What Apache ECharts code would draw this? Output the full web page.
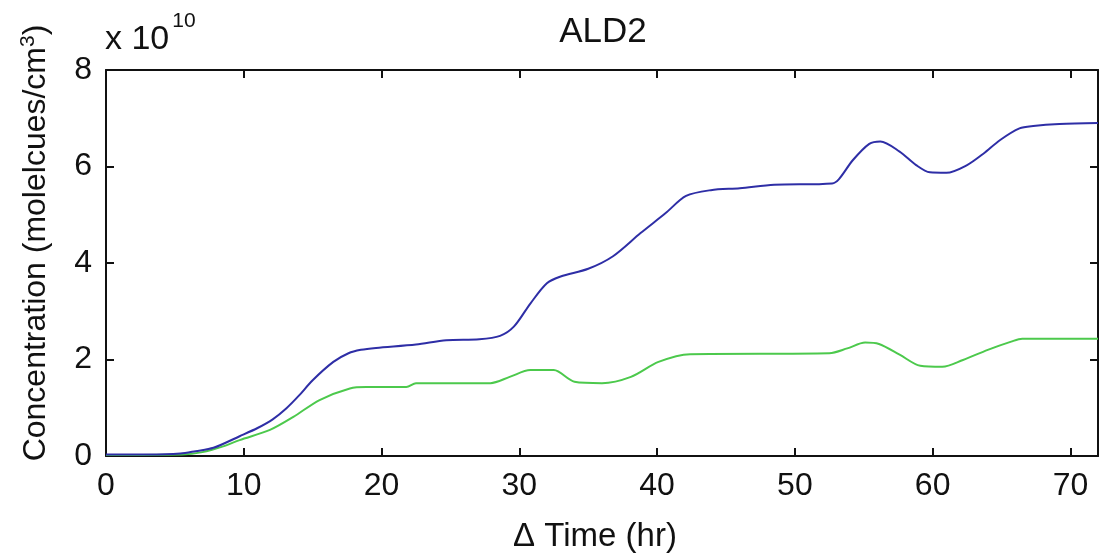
<!DOCTYPE html>
<html>
<head>
<meta charset="utf-8">
<script src="https://cdn.jsdelivr.net/npm/echarts@6/dist/echarts.min.js"></script>
<style>
html,body{margin:0;padding:0;background:#fff;}
#chart{width:1099px;height:560px;}
</style>
</head>
<body>
<div id="chart"></div>
<script>
// ---- data (concentration in units of 1e10 molecules/cm^3) ----
const titleText = 'ALD2';
const xName = '\u0394 Time (hr)';
const yNameMain = 'Concentration (molelcues/cm';
const yNameSup = '3';
const yNameEnd = ')';
const exponentBase = 'x 10';
const exponentPower = '10';

const xTicks = [0, 10, 20, 30, 40, 50, 60, 70];
const yTicks = [0, 2, 4, 6, 8];
const xMin = 0, xMax = 72, yMin = 0, yMax = 8;

const blueTime = [0, 3, 5.4, 6.5, 7.8, 9.7, 11, 12.1, 13.1, 14, 15, 16.5, 17.6, 18.5, 19.6, 22.5, 24.7, 27.1, 28.6, 29.6, 30.8, 32, 33, 35, 36.8, 38.8, 40.6, 42.1, 43.9, 46, 48.5, 52.7, 53.2, 54.2, 55.4, 56.2, 57.6, 58.8, 59.8, 61, 62.5, 63.7, 64.9, 66.3, 67.3, 69.2, 72];
const blueVals = [0.03, 0.03, 0.05, 0.1, 0.17, 0.41, 0.58, 0.76, 0.99, 1.25, 1.57, 1.95, 2.13, 2.2, 2.24, 2.31, 2.4, 2.42, 2.49, 2.68, 3.16, 3.58, 3.72, 3.88, 4.14, 4.62, 5.03, 5.39, 5.51, 5.55, 5.62, 5.65, 5.74, 6.13, 6.47, 6.52, 6.31, 6.03, 5.88, 5.87, 6.03, 6.27, 6.55, 6.79, 6.84, 6.88, 6.9];

const greenTime = [0, 5.5, 7, 8.5, 9.7, 11.9, 13.6, 15.5, 17.7, 18.9, 21.8, 22.5, 27.9, 29.3, 30.8, 32.5, 34, 36, 38.1, 40.1, 42.4, 52.5, 53.8, 55.1, 56.1, 57.6, 59.1, 60.7, 62.2, 64, 65.7, 66.5, 72];
const greenVals = [0.02, 0.03, 0.08, 0.2, 0.33, 0.54, 0.81, 1.16, 1.4, 1.43, 1.43, 1.51, 1.51, 1.64, 1.78, 1.78, 1.54, 1.51, 1.64, 1.95, 2.11, 2.13, 2.23, 2.35, 2.32, 2.1, 1.87, 1.85, 1.99, 2.2, 2.37, 2.43, 2.43];

const FONT = "'Liberation Sans', Arial, sans-serif";
const blueData = blueTime.map((t, i) => [t, blueVals[i]]);
const greenData = greenTime.map((t, i) => [t, greenVals[i]]);

const chart = echarts.init(document.getElementById('chart'));
const boxAxis = {
  axisLine: { show: true, onZero: false, lineStyle: { color: '#111', width: 2 } },
  axisTick: { show: true, inside: true, length: 8, lineStyle: { color: '#111', width: 2 } },
  splitLine: { show: false }
};
chart.setOption({
  animation: false,
  backgroundColor: '#fff',
  title: {
    text: titleText, left: 598, top: 10, textAlign: 'center',
    textStyle: { fontFamily: FONT, fontSize: 35, fontWeight: 'normal', color: '#111' }
  },
  grid: { left: 106, right: 1, top: 70, bottom: 104, containLabel: false },
  xAxis: [
    Object.assign({
      type: 'value', min: xMin, max: xMax, position: 'bottom',
      name: xName, nameLocation: 'middle', nameGap: 64,
      nameTextStyle: { fontFamily: FONT, fontSize: 33, color: '#111', padding: [0, 14, 0, 0] },
      axisLabel: { customValues: xTicks, margin: 14, fontFamily: FONT, fontSize: 32, color: '#111' }
    }, boxAxis, { axisTick: Object.assign({}, boxAxis.axisTick, { customValues: xTicks }) }),
    Object.assign({
      type: 'value', min: xMin, max: xMax, position: 'top',
      axisLabel: { show: false }
    }, boxAxis, { axisTick: Object.assign({}, boxAxis.axisTick, { customValues: xTicks }) })
  ],
  yAxis: [
    Object.assign({
      type: 'value', min: yMin, max: yMax, interval: 2, position: 'left',
      name: '{m|' + yNameMain + '}{s|' + yNameSup + '}{m|' + yNameEnd + '}',
      nameLocation: 'middle', nameGap: 52, nameRotate: 90,
      nameTextStyle: {
        fontFamily: FONT, fontSize: 32, color: '#111', padding: [0, 0, 0, 40],
        rich: {
          m: { fontFamily: FONT, fontSize: 32, color: '#111', lineHeight: 36 },
          s: { fontFamily: FONT, fontSize: 21, color: '#111', verticalAlign: 'top', lineHeight: 36 }
        }
      },
      axisLabel: { customValues: yTicks, margin: 14, fontFamily: FONT, fontSize: 32, color: '#111' }
    }, boxAxis, { axisTick: Object.assign({}, boxAxis.axisTick, { customValues: yTicks }) }),
    Object.assign({
      type: 'value', min: yMin, max: yMax, interval: 2, position: 'right',
      axisLabel: { show: false }
    }, boxAxis, { axisTick: Object.assign({}, boxAxis.axisTick, { customValues: yTicks }) })
  ],
  graphic: [{
    type: 'text', left: 105, top: 11, silent: true,
    style: {
      text: '{a|' + exponentBase + '}{b|' + exponentPower + '}',
      rich: {
        a: { fontFamily: FONT, fontSize: 34, fill: '#111', lineHeight: 46, verticalAlign: 'bottom' },
        b: { fontFamily: FONT, fontSize: 21, fill: '#111', lineHeight: 46, verticalAlign: 'top', padding: [0, 0, 0, 3] }
      }
    }
  }],
  series: [
    {
      type: 'line', data: blueData, xAxisIndex: 0, yAxisIndex: 0,
      showSymbol: false, smooth: 0.3, lineStyle: { color: '#2e2ea6', width: 2 }, z: 3
    },
    {
      type: 'line', data: greenData, xAxisIndex: 0, yAxisIndex: 0,
      showSymbol: false, smooth: 0.3, lineStyle: { color: '#4cc94c', width: 2 }, z: 2
    }
  ]
});
</script>
</body>
</html>
